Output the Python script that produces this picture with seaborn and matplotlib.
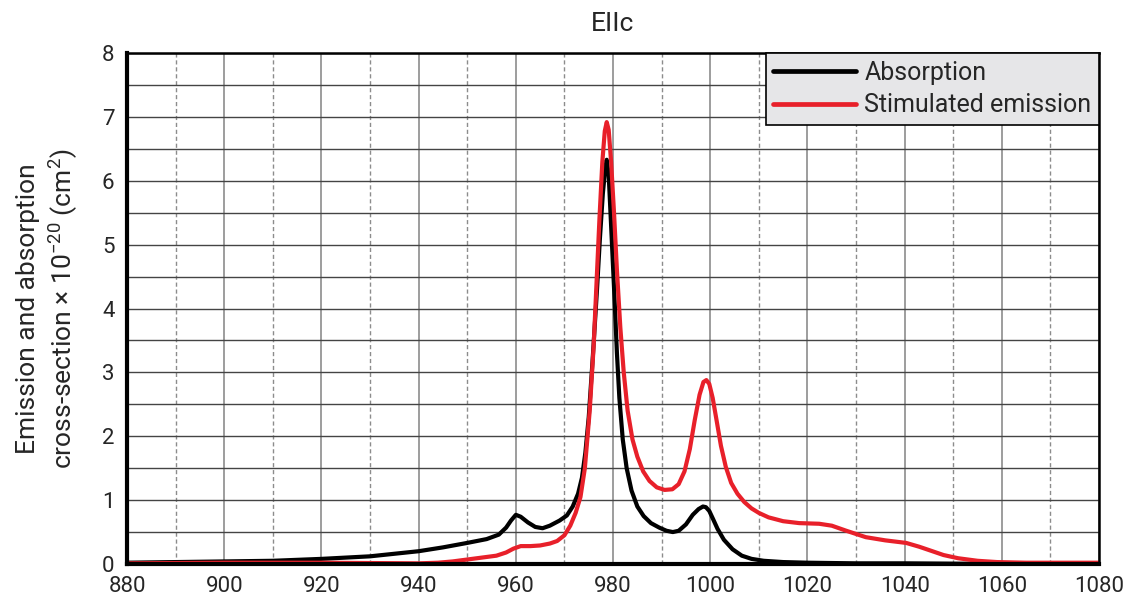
import matplotlib
matplotlib.use("Agg")
import matplotlib.pyplot as plt
import pandas as pd
import seaborn as sns
from matplotlib.ticker import MultipleLocator

# wavelength (nm) and cross-section (x1e-20 cm^2)
abs_wl = [880, 890, 900, 910, 920, 930, 940, 945, 950, 954, 956.5, 958, 959, 960,
          961, 962.5, 964, 965.5, 967, 969, 970.5, 971.7, 972.8, 973.6, 974.3,
          975, 975.8, 976.7, 977.3, 977.9, 978.4, 978.7, 979.1, 979.6, 980.2,
          980.8, 981.3, 982, 982.8, 983.8, 985, 986.3, 987.8, 989.5, 991, 992.3,
          993.5, 995, 996.4, 997.6, 998.5, 999.1, 999.8, 1000.6, 1001.5, 1002.8,
          1004.6, 1006.5, 1008.5, 1011, 1015, 1020, 1030, 1040, 1060, 1080]
abs_val = [0.02, 0.03, 0.04, 0.05, 0.08, 0.12, 0.2, 0.26, 0.33, 0.39, 0.46, 0.57,
           0.68, 0.77, 0.74, 0.65, 0.58, 0.56, 0.6, 0.68, 0.76, 0.9, 1.1, 1.35,
           1.74, 2.3, 3.2, 4.3, 5.1, 5.8, 6.2, 6.33, 6.1, 5.3, 4.33, 3.3, 2.6, 1.95,
           1.5, 1.15, 0.9, 0.75, 0.64, 0.57, 0.52, 0.5, 0.52, 0.62, 0.77, 0.86,
           0.9, 0.89, 0.83, 0.7, 0.55, 0.38, 0.23, 0.13, 0.08, 0.05, 0.03, 0.02,
           0.01, 0.01, 0.0, 0.0]

emi_wl = [880, 900, 920, 940, 944, 947, 950, 953, 956, 958, 959.5, 961, 963, 965,
          967, 968.5, 970, 971.2, 972.3, 973.3, 974.2, 975.2, 976, 976.6, 977.2,
          977.8, 978.3, 978.7, 979.1, 979.6, 980.2, 980.8, 981.5, 982.2, 983,
          984, 985, 986.2, 987.5, 989, 990.6, 992.2, 993.5, 994.7, 995.8, 996.8,
          997.8, 998.6, 999.2, 999.8, 1000.5, 1001.3, 1002.2, 1003.2, 1004.3,
          1005.6, 1007, 1008.5, 1010, 1012, 1015, 1018.3, 1022.4, 1025, 1028,
          1032, 1036, 1040.3, 1043, 1045.7, 1048, 1051, 1055, 1059, 1065, 1080]
emi_val = [0.01, 0.02, 0.02, 0.01, 0.02, 0.04, 0.07, 0.1, 0.13, 0.18, 0.24, 0.28,
           0.28, 0.29, 0.32, 0.36, 0.45, 0.6, 0.8, 1.05, 1.5, 2.4, 3.4, 4.4, 5.4,
           6.3, 6.78, 6.92, 6.8, 6.3, 5.5, 4.6, 3.7, 3.0, 2.4, 1.95, 1.68, 1.45,
           1.3, 1.2, 1.16, 1.17, 1.25, 1.45, 1.8, 2.25, 2.65, 2.85, 2.88, 2.82, 2.6,
           2.25, 1.85, 1.52, 1.27, 1.1, 0.97, 0.87, 0.8, 0.73, 0.67, 0.64, 0.63,
           0.6, 0.52, 0.42, 0.37, 0.33, 0.27, 0.2, 0.14, 0.09, 0.05, 0.03, 0.02,
           0.02]

absorption = pd.DataFrame({"wl": abs_wl, "val": abs_val})
emission = pd.DataFrame({"wl": emi_wl, "val": emi_val})

sns.set_theme(style="white")
plt.rcParams["font.family"] = ["Roboto", "DejaVu Sans"]
plt.rcParams["mathtext.default"] = "regular"

fig = plt.figure(figsize=(11.29, 5.97), dpi=100)
ax = fig.add_axes([0.1125, 0.0553, 0.861, 0.8557])

sns.lineplot(data=absorption, x="wl", y="val", color="black", lw=3.0,
             label="Absorption", ax=ax, sort=False)
sns.lineplot(data=emission, x="wl", y="val", color="#e8202a", lw=3.0,
             label="Stimulated emission", ax=ax, sort=False)
for line in ax.get_lines():
    line.set_solid_joinstyle("round")

ax.set_xlim(880, 1080)
ax.set_ylim(0, 8)
ax.xaxis.set_major_locator(MultipleLocator(20))
ax.xaxis.set_minor_locator(MultipleLocator(10))
ax.yaxis.set_major_locator(MultipleLocator(1))
ax.yaxis.set_minor_locator(MultipleLocator(0.5))
ax.grid(which="major", axis="x", color="#8c8c8c", lw=1.2, ls="-")
ax.grid(which="minor", axis="x", color="#8c8c8c", lw=1.0, ls=(0, (3, 2)))
ax.grid(which="both", axis="y", color="#444444", lw=1.0, ls="-")
ax.set_axisbelow(True)
ax.tick_params(axis="both", which="major", length=0, labelsize=16)
ax.tick_params(axis="x", which="major", pad=9)
ax.tick_params(axis="y", which="major", pad=9)
ax.tick_params(axis="both", which="minor", length=0)

for side in ["left", "bottom"]:
    ax.spines[side].set_linewidth(3)
for side in ["top", "right"]:
    ax.spines[side].set_linewidth(1.8)
for sp in ax.spines.values():
    sp.set_color("black")

ax.set_xlabel("")
ax.set_ylabel("Emission and absorption\ncross-section × 10$^{-20}$ (cm$^{2}$)",
              fontsize=19, labelpad=16, linespacing=1.25)
ax.set_title("EIIc", fontsize=19, pad=16)

leg = ax.legend(loc="upper right", bbox_to_anchor=(1, 1), borderaxespad=0,
                fontsize=18, frameon=True, fancybox=False, framealpha=1,
                facecolor="#e6e6e8", edgecolor="black", handlelength=3.3,
                handletextpad=0.35, borderpad=0.3, labelspacing=0.35)
leg.get_frame().set_linewidth(1.2)
for line in leg.get_lines():
    line.set_linewidth(3.4)

fig.savefig("out.png", dpi=100)
